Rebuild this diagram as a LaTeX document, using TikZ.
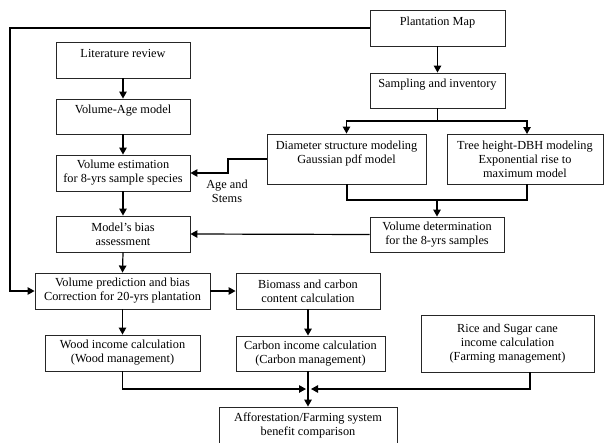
\documentclass[tikz,border=0pt]{standalone}
\usepackage{fontspec}
\setmainfont{Liberation Serif}
\usetikzlibrary{arrows.meta}
\begin{document}
\begin{tikzpicture}[x=1pt,y=-1pt,
  box/.style={draw=black!85, line width=0.9pt, inner sep=0pt, align=center,
    font=\fontsize{12.3}{14}\selectfont},
  conn/.style={line width=1.2pt, black},
  arr/.style={conn, -{Triangle[length=7pt,width=7.5pt]}},
  lbl/.style={align=center, font=\fontsize{12.3}{14}\selectfont, inner sep=0pt}]
\clip (0,0) rectangle (604,442);
\fill[white] (0,0) rectangle (604,442);
% boxes
\node[box, minimum width=135pt, minimum height=36pt] (pm) at (437.5,28) {Plantation Map\\\mbox{}};
\node[box, minimum width=135pt, minimum height=35pt] (si) at (437.5,90.5) {Sampling and inventory\\\mbox{}};
\node[box, minimum width=134pt, minimum height=36pt] (lr) at (123,60) {Literature review\\\mbox{}};
\node[box, minimum width=134pt, minimum height=35pt] (va) at (123,116.5) {Volume-Age model\\\mbox{}};
\node[box, minimum width=159pt, minimum height=50pt] (ds) at (346.5,159) {Diameter structure modeling\\Gaussian pdf model\\\mbox{}};
\node[box, minimum width=156pt, minimum height=50pt] (th) at (525,159) {Tree height-DBH modeling\\Exponential rise to\\maximum model};
\node[box, minimum width=134pt, minimum height=36pt] (ve) at (123,173) {Volume estimation\\for 8-yrs sample species};
\node[box, minimum width=134pt, minimum height=36pt] (mb) at (123,234) {Model’s bias\\assessment};
\node[box, minimum width=134pt, minimum height=35pt] (vd) at (437,234.5) {Volume determination\\for the 8-yrs samples};
\node[box, minimum width=175pt, minimum height=36pt] (vp) at (122.5,291) {Volume prediction and bias\\Correction for 20-yrs plantation};
\node[box, minimum width=144pt, minimum height=36pt] (bc) at (308,291) {Biomass and carbon\\content calculation};
\node[box, minimum width=155pt, minimum height=36pt] (wi) at (122.5,353) {Wood income calculation\\(Wood management)};
\node[box, minimum width=149pt, minimum height=35pt] (ci) at (310.5,353.5) {Carbon income calculation\\(Carbon management)};
\node[box, minimum width=173pt, minimum height=57pt] (rs) at (507.5,343.5) {Rice and Sugar cane\\income calculation\\(Farming management)};
\node[box, minimum width=178pt, minimum height=37pt] (af) at (308,425.5) {Afforestation/Farming system\\benefit comparison};
\node[lbl] (ageLbl) at (227,191) {Age and\\Stems};
% helper coordinates
\coordinate (jL) at (10,28);
\coordinate (sj) at (437.5,121);
\coordinate (dj) at (437,200);
\coordinate (e1) at (228,159);
\coordinate (e2) at (228,173);
\coordinate (wj) at (122.5,389);
\coordinate (wEnd) at (306,389);
\coordinate (rTop) at (530,372);
\coordinate (rj) at (530,389);
\coordinate (rEnd) at (311,389);
% connectors
\draw[arr] (pm.west) -- (jL) |- (vp.west);
\draw[arr] (pm.south) -- (si.north);
\draw[conn] (si.south) -- (sj);
\draw[arr] (sj) -| (ds.north);
\draw[arr] (sj) -| (527,134);
\draw[arr] (lr.south) -- (va.north);
\draw[arr] (va.south) -- (ve.north);
\draw[arr] (ve.south) -- (mb.north);
\draw[arr] (mb.south) -- (vp.north);
\draw[arr] (ds.west) -- (e1) -- (e2) -- (ve.east |- e2);
\draw[conn] (347,184) -- (347,200) -- (527,200) -- (527,184);
\draw[arr] (dj) -- (vd.north);
\draw[arr] (vd.west) -- (mb.east);
\draw[arr] (vp.east) -- (bc.west);
\draw[arr] (vp.south) -- (wi.north);
\draw[arr] (bc.south) -- (bc.south |- ci.north);
\draw[arr] (wi.south) -- (wj) -- (wEnd);
\draw[arr] (rTop) -- (rj) -- (rEnd);
\draw[arr] (308,371) -- (af.north);
\end{tikzpicture}
\end{document}
